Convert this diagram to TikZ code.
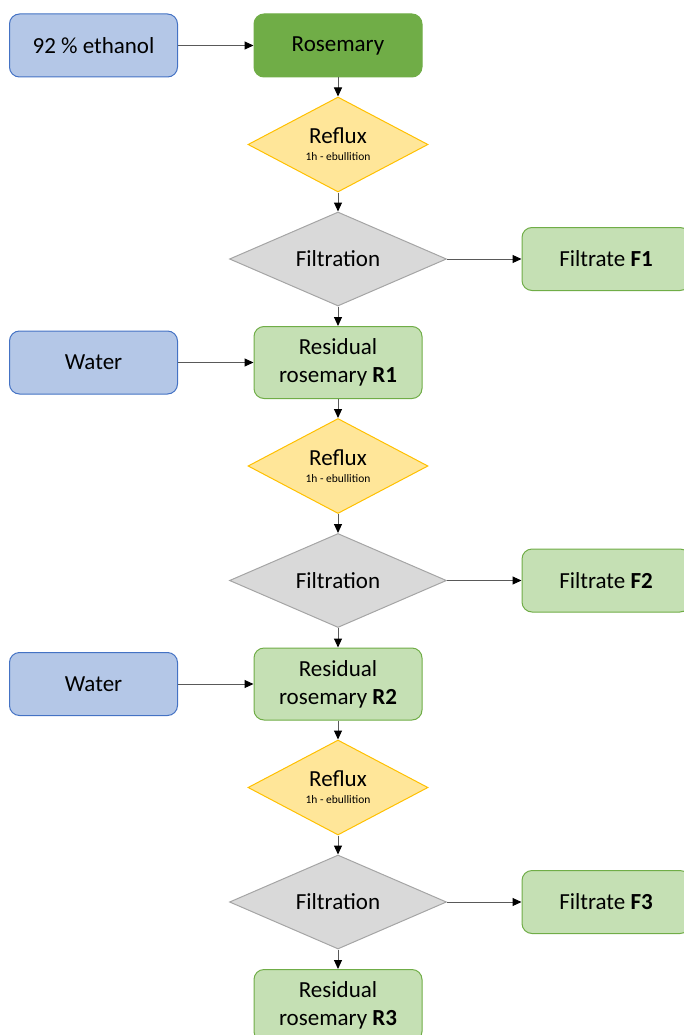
\documentclass[tikz,border=0pt]{standalone}
\usepackage{fontspec}
\setmainfont{Carlito}
\usetikzlibrary{shapes.geometric,arrows.meta}

\definecolor{inblue}{HTML}{B4C7E7}
\definecolor{inblueline}{HTML}{4472C4}
\definecolor{herbgreen}{HTML}{70AD47}
\definecolor{lightgreen}{HTML}{C5E0B4}
\definecolor{refluxfill}{HTML}{FFE699}
\definecolor{refluxline}{HTML}{FFC000}
\definecolor{filtfill}{HTML}{D9D9D9}
\definecolor{filtline}{HTML}{A5A5A5}

\tikzset{
  box/.style={rectangle,rounded corners=10pt,minimum width=168pt,minimum height=63pt,
    inner sep=2pt,align=center,line width=1pt},
  inputbox/.style={box,draw=inblueline,fill=inblue},
  plantbox/.style={box,draw=herbgreen,fill=herbgreen},
  residbox/.style={box,draw=herbgreen,fill=lightgreen,minimum height=72pt},
  filtratebox/.style={box,draw=herbgreen,fill=lightgreen},
  refluxstep/.style={diamond,aspect=2,inner sep=0pt,minimum width=180pt,minimum height=95pt,
    draw=refluxline,fill=refluxfill,line width=1pt,align=center},
  filtstep/.style={diamond,aspect=2,inner sep=0pt,minimum width=217pt,minimum height=94pt,
    draw=filtline,fill=filtfill,line width=1pt},
  flow/.style={draw=black!65,line width=1pt,-{Triangle[black,length=9pt,width=8pt]}}
}

\begin{document}
\begin{tikzpicture}[x=1pt,y=-1pt,font=\fontsize{23}{28}\selectfont]
\useasboundingbox (0,0) rectangle (684,1035);

\node[inputbox] (ethanol) at (93.5,45.5) {92 \% ethanol};
\node[plantbox] (rosemary) at (338,45.5) {Rosemary};

\node[inputbox] (water1) at (93.5,362.5) {Water};
\node[residbox] (res1) at (338,362.5) {Residual\\rosemary \textbf{R1}};
\node[inputbox] (water2) at (93.5,684) {Water};
\node[residbox] (res2) at (338,684) {Residual\\rosemary \textbf{R2}};
\node[residbox] (res3) at (338,1005.5) {Residual\\rosemary \textbf{R3}};

% one reflux / filtration stage per cycle
\foreach \i/\y in {1/0,2/321.5,3/643}{
  \node[refluxstep] (reflux\i) at (338,144.5+\y)
    {Reflux\\[-11pt]{\fontsize{11.5}{13}\selectfont 1h - ebullition}};
  \node[filtstep] (filt\i) at (338,259+\y) {Filtration};
  \node[filtratebox] (filtrate\i) at (606,259+\y) {Filtrate \textbf{F\i}};
  \draw[flow] (reflux\i.south) -- (filt\i.north);
  \draw[flow] (filt\i.east) -- (filtrate\i.west);
  \draw[flow] (filt\i.south) -- (res\i.north);
}

\draw[flow] (ethanol.east) -- (rosemary.west);
\draw[flow] (rosemary.south) -- (reflux1.north);
\draw[flow] (water1.east) -- (res1.west);
\draw[flow] (res1.south) -- (reflux2.north);
\draw[flow] (water2.east) -- (res2.west);
\draw[flow] (res2.south) -- (reflux3.north);
\end{tikzpicture}
\end{document}
